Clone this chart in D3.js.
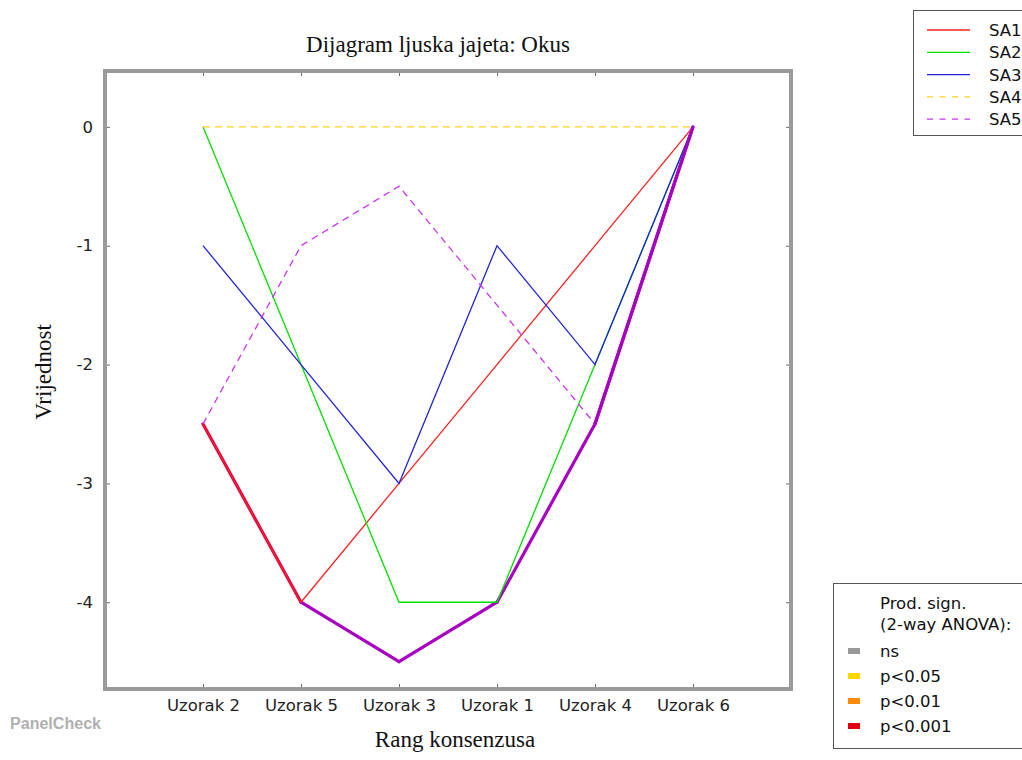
<!DOCTYPE html>
<html><head><meta charset="utf-8">
<script src="https://cdn.jsdelivr.net/npm/d3@7"></script>
<style>body{margin:0;background:#fff;}svg{display:block;}</style>
</head><body>
<svg id="c" width="1022" height="760"></svg>
<script>
const categories = ["Uzorak 2","Uzorak 5","Uzorak 3","Uzorak 1","Uzorak 4","Uzorak 6"];
const SA1 = [-2.5,-4,-3,-2,-1,0];
const SA2 = [0,-2,-4,-4,-2,0];
const SA3 = [-1,-2,-3,-1,-2,0];
const SA4 = [0,0,0,0,0,0];
const SA5 = [-2.5,-1,-0.5,-1.5,-2.5,0];
const shell = [-2.5,-4,-4.5,-4,-2.5,0];
const yTicks = [0,-1,-2,-3,-4];
const seriesNames = ["SA1","SA2","SA3","SA4","SA5"];
const signLabels = ["ns","p<0.05","p<0.01","p<0.001"];

const series = [
  {name:"SA1", v:SA1, color:"#ff2020", dash:null},
  {name:"SA2", v:SA2, color:"#00e000", dash:null},
  {name:"SA3", v:SA3, color:"#2222dd", dash:null},
  {name:"SA4", v:SA4, color:"#ffd21a", dash:"7,5"},
  {name:"SA5", v:SA5, color:"#cc33ee", dash:"7,5"}
];
const signColors = ["#999999","#ffd700","#ff8c00","#e00010"];

const svg = d3.select("#c");
const L=105, R=791, T=71, B=689;
const x = d3.scaleLinear().domain([-1,6]).range([L,R]);
const y = d3.scaleLinear().domain([-4.73,0.47]).range([B,T]);
const SANS = "DejaVu Sans, sans-serif", SERIF = "Liberation Serif, serif";

// title
svg.append("text").attr("x",438).attr("y",52).attr("text-anchor","middle")
  .attr("font-family",SERIF).attr("font-size",23).attr("fill","#111")
  .text("Dijagram ljuska jajeta: Okus");

// axes ticks
const g = svg.append("g");
const xb = d3.axisBottom(x).tickValues(d3.range(categories.length)).tickFormat(i=>categories[i]).tickSizeInner(-5).tickSizeOuter(0).tickPadding(10);
g.append("g").attr("transform",`translate(0,${B})`).call(xb);
const xt = d3.axisTop(x).tickValues(d3.range(categories.length)).tickFormat("").tickSizeInner(-5).tickSizeOuter(0);
g.append("g").attr("transform",`translate(0,${T})`).call(xt);
const yl = d3.axisLeft(y).tickValues(yTicks).tickFormat(d=>String(d)).tickSizeInner(-5).tickSizeOuter(0).tickPadding(12);
g.append("g").attr("transform",`translate(${L},0)`).call(yl);
const yr = d3.axisRight(y).tickValues(yTicks).tickFormat("").tickSizeInner(-5).tickSizeOuter(0);
g.append("g").attr("transform",`translate(${R},0)`).call(yr);
g.selectAll(".domain").remove();
g.selectAll(".tick line").attr("stroke","#444").attr("stroke-width",0.8);
g.selectAll(".tick text").attr("font-family",SANS).attr("font-size",16.5).attr("fill","#222");

const line = d3.line().x((d,i)=>x(i)).y(d=>y(d));

// shell (thick)
const shellSeg = shell.map((d,i)=>i).slice(0,-1);
svg.append("g").selectAll("path").data(shellSeg).join("path")
  .attr("d",i=>d3.line()([[x(i),y(shell[i])],[x(i+1),y(shell[i+1])]]))
  .attr("fill","none").attr("stroke",i=>i===0?"#d8004f":"#a800c0")
  .attr("stroke-width",3.2).attr("stroke-linecap","round");

// series
svg.append("g").selectAll("path").data(series).join("path")
  .attr("d",s=>line(s.v)).attr("fill","none").attr("stroke",s=>s.color)
  .attr("stroke-width",1.3).attr("stroke-dasharray",s=>s.dash);

// redraw shell on top where it overlaps SA5 at the end
svg.append("path").attr("d",d3.line()([[x(4),y(shell[4])],[x(5),y(shell[5])]]))
  .attr("fill","none").attr("stroke","#a800c0").attr("stroke-width",3.2);

// frame
svg.append("rect").attr("x",L).attr("y",T).attr("width",R-L).attr("height",B-T)
  .attr("fill","none").attr("stroke","#9a9a9a").attr("stroke-width",4);

// axis labels
svg.append("text").attr("x",455).attr("y",747).attr("text-anchor","middle")
  .attr("font-family",SERIF).attr("font-size",23).attr("fill","#111")
  .text("Rang konsenzusa");
svg.append("text").attr("transform","translate(51,372) rotate(-90)").attr("text-anchor","middle")
  .attr("font-family",SERIF).attr("font-size",23).attr("fill","#111")
  .text("Vrijednost");

// legend 1
const lg = svg.append("g");
lg.append("rect").attr("x",913.5).attr("y",10.5).attr("width",120).attr("height",125)
  .attr("fill","#fff").attr("stroke","#555").attr("stroke-width",1);
series.forEach((s,i)=>{
  const yy = 30 + i*22.3;
  lg.append("line").attr("x1",927).attr("x2",970).attr("y1",yy).attr("y2",yy)
    .attr("stroke",s.color).attr("stroke-width",1.3).attr("stroke-dasharray",s.dash?"6,6.5":null);
  lg.append("text").attr("x",989).attr("y",yy+6).attr("font-family",SANS)
    .attr("font-size",16.5).attr("fill","#111").text(seriesNames[i]);
});

// legend 2
const lg2 = svg.append("g");
lg2.append("rect").attr("x",833.5).attr("y",583.5).attr("width",200).attr("height",165)
  .attr("fill","#fff").attr("stroke","#555").attr("stroke-width",1);
lg2.append("text").attr("x",880).attr("y",609).attr("font-family",SANS)
  .attr("font-size",16.5).attr("fill","#111").text("Prod. sign.");
lg2.append("text").attr("x",880).attr("y",630).attr("font-family",SANS)
  .attr("font-size",16.5).attr("fill","#111").text("(2-way ANOVA):");
signLabels.forEach((t,i)=>{
  const yy = 651 + i*25;
  lg2.append("rect").attr("x",848).attr("y",yy-3).attr("width",12).attr("height",6).attr("fill",signColors[i]);
  lg2.append("text").attr("x",880).attr("y",yy+6).attr("font-family",SANS)
    .attr("font-size",16.5).attr("fill","#111").text(t);
});

// watermark
svg.append("text").attr("x",10).attr("y",729).attr("font-family","Liberation Sans, Arial, sans-serif")
  .attr("font-weight","bold").attr("font-size",16).attr("fill","#b0b0b0").attr("textLength",91)
  .attr("lengthAdjust","spacingAndGlyphs")
  .text("PanelCheck");
</script>
</body></html>
